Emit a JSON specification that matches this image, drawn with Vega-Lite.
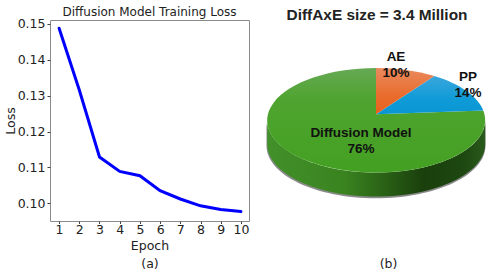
{"$schema":"https://vega.github.io/schema/vega-lite/v6.json","padding":{"left":3,"top":5,"right":0,"bottom":0},"background":"white","spacing":1,"config":{"font":"DejaVu Sans","view":{"stroke":"#8a8a8a"}},
"datasets":{"loss":[{"epoch":1,"loss":0.1488},{"epoch":2,"loss":0.1316},{"epoch":3,"loss":0.1129},{"epoch":4,"loss":0.1089},{"epoch":5,"loss":0.1077},{"epoch":6,"loss":0.1035},{"epoch":7,"loss":0.1012},{"epoch":8,"loss":0.0993},{"epoch":9,"loss":0.0983},{"epoch":10,"loss":0.0977}],
"parts":[{"part":"AE","share":10,"label":"AE\n10%","lx":0.2,"ly":0.57},{"part":"PP","share":14,"label":"PP\n14%","lx":0.92,"ly":0.37},{"part":"Diffusion Model","share":76,"label":"Diffusion Model\n76%","lx":-0.15,"ly":-0.19}]},
"hconcat":[{"width":199,"height":201,"title":{"text":"Diffusion Model Training Loss","font":"DejaVu Sans","fontSize":12,"fontWeight":"normal","color":"#222","offset":-1},
"data":{"name":"loss"},"mark":{"type":"line","color":"#0000ff","strokeWidth":3,"strokeCap":"round"},
"encoding":{"x":{"field":"epoch","type":"quantitative","scale":{"domain":[0.55,10.4],"nice":false,"zero":false},"axis":{"values":[1,2,3,4,5,6,7,8,9,10],"format":"d","grid":false,"domain":false,"tickColor":"#444","tickSize":2.5,"labelFontSize":12.5,"labelColor":"#222","labelPadding":0,"title":["Epoch","(a)"],"titleFontSize":12.5,"titleFontWeight":"normal","titleColor":"#222","titleLineHeight":18,"titlePadding":3}},
"y":{"field":"loss","type":"quantitative","scale":{"domain":[0.09507,0.1511],"nice":false,"zero":false},"axis":{"values":[0.1,0.11,0.12,0.13,0.14,0.15],"format":".2f","grid":false,"domain":false,"tickColor":"#444","tickSize":3,"labelFontSize":12.5,"labelColor":"#222","labelPadding":2,"title":"Loss","titleFontSize":12.5,"titleFontWeight":"normal","titleColor":"#222","titlePadding":0}}}},
{"width":248,"height":201,"view":{"stroke":null},"title":{"text":"DiffAxE size = 3.4 Million","font":"Liberation Sans","fontSize":15.4,"fontWeight":"bold","color":"#222","offset":-3,"anchor":"middle","dx":2},
"data":{"name":"parts"},
"layer":[
{"transform":[{"filter":"datum.part==='Diffusion Model'"}],"mark":{"type":"point","filled":true,"opacity":1,"size":40000,"shape":"M-1.095,.07 A1.09,.523 0 0 0 1.095,.07 L1.095,.315 A1.09,.523 0 0 1 -1.095,.315 Z","fill":"#8a8a8a"},
"encoding":{"x":{"datum":0,"type":"quantitative","scale":{"domain":[-1.25,1.23],"nice":false,"zero":false},"axis":{"domain":false,"ticks":false,"labels":false,"grid":false,"title":"(b)","titleFont":"DejaVu Sans","titleFontSize":12.5,"titleFontWeight":"normal","titleColor":"#222","titleX":137,"titleY":36}},"y":{"datum":0,"type":"quantitative","scale":{"domain":[-1.067,0.943],"nice":false,"zero":false},"axis":null}}},
{"transform":[{"filter":"datum.part==='Diffusion Model'"}],"mark":{"type":"point","filled":true,"opacity":1,"size":40000,"shape":"M-1.088,.06 A1.09,.523 0 0 0 1.092,.06 L1.092,.3 A1.09,.523 0 0 1 -1.088,.3 Z","fill":{"gradient":"linear","x1":0,"y1":0,"x2":1,"y2":0,"stops":[{"offset":0,"color":"#42902a"},{"offset":0.35,"color":"#3a8420"},{"offset":0.72,"color":"#1a3f0c"},{"offset":0.9,"color":"#1d4810"},{"offset":1,"color":"#2a5a1c"}]}},
"encoding":{"x":{"datum":0,"type":"quantitative"},"y":{"datum":0,"type":"quantitative"}}},
{"transform":[{"filter":"datum.part==='Diffusion Model'"}],"mark":{"type":"point","filled":true,"opacity":1,"size":40000,"shape":"M0,0 L1.073,-.037 A1.09,.523 0 1 1 0,-.463 Z","fill":{"gradient":"linear","x1":0,"y1":0,"x2":0,"y2":1,"stops":[{"offset":0,"color":"#66a955"},{"offset":0.3,"color":"#4fa42f"},{"offset":1,"color":"#43a022"}]}},
"encoding":{"x":{"datum":0,"type":"quantitative"},"y":{"datum":0,"type":"quantitative"}}},
{"transform":[{"filter":"datum.part==='PP'"}],"mark":{"type":"point","filled":true,"opacity":1,"size":40000,"shape":"M0,0 L.583,-.382 A1.09,.523 0 0 1 1.073,-.037 Z","fill":{"gradient":"linear","x1":0,"y1":0,"x2":0,"y2":1,"stops":[{"offset":0,"color":"#3aa6dc"},{"offset":0.6,"color":"#0f9bd8"},{"offset":1,"color":"#0a96d2"}]}},
"encoding":{"x":{"datum":0,"type":"quantitative"},"y":{"datum":0,"type":"quantitative"}}},
{"transform":[{"filter":"datum.part==='AE'"}],"mark":{"type":"point","filled":true,"opacity":1,"size":40000,"shape":"M0,0 L0,-.463 A1.09,.523 0 0 1 .583,-.382 Z","fill":{"gradient":"linear","x1":0,"y1":0,"x2":0,"y2":1,"stops":[{"offset":0,"color":"#e98a5e"},{"offset":0.6,"color":"#e96c2c"},{"offset":1,"color":"#e8601c"}]}},
"encoding":{"x":{"datum":0,"type":"quantitative"},"y":{"datum":0,"type":"quantitative"}}},
{"mark":{"type":"text","font":"Liberation Sans","fontSize":13.5,"fontWeight":"bold","color":"#111","lineBreak":"\n","lineHeight":16,"align":"center","baseline":"middle"},
"encoding":{"x":{"field":"lx","type":"quantitative"},"y":{"field":"ly","type":"quantitative"},"text":{"field":"label"}}}
]}]}
